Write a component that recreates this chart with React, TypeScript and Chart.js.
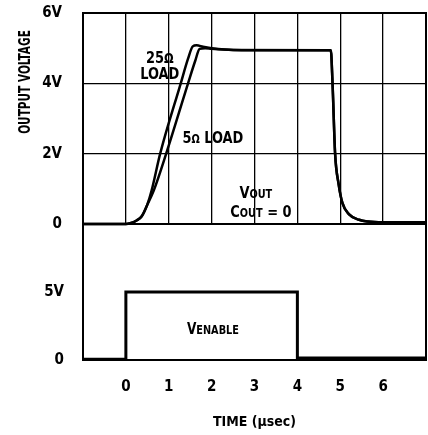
import React, { useEffect, useRef } from 'react';
import { Chart, registerables } from 'chart.js';

Chart.register(...registerables);

const FONT = '"Liberation Sans Narrow", "DejaVu Sans Condensed", "Roboto Condensed", "Liberation Sans", Arial, sans-serif';

// ---- data ----
const timeTicks = [0, 1, 2, 3, 4, 5, 6];
const outputTicks = [0, 2, 4, 6];
const outputTickLabels = ['0', '2V', '4V', '6V'];
const enableTicks = [0, 5];
const enableTickLabels = ['0', '5V'];

// 25 ohm load output (time in usec, volts)
const load25Time = [-1, 0, 0.1, 0.25, 0.37, 0.5, 0.6, 0.8, 1.28, 1.45, 1.56, 1.65, 1.8, 2.0, 2.3, 2.7, 4.78, 4.82, 4.88, 4.96, 5.05, 5.2, 5.44, 5.64, 6.0, 7];
const load25Volt = [0, 0, 0.02, 0.1, 0.22, 0.55, 0.95, 2.0, 4.0, 4.7, 5.05, 5.08, 5.04, 5.0, 4.96, 4.94, 4.94, 4.0, 2.0, 1.15, 0.6, 0.28, 0.12, 0.07, 0.05, 0.05];

// 5 ohm load output
const load5Time = [-1, 0, 0.1, 0.25, 0.37, 0.5, 0.65, 0.94, 1.45, 1.62, 1.72, 1.85, 2.0, 2.5, 4.78, 4.82, 4.88, 4.96, 5.05, 5.2, 5.44, 5.64, 6.0, 7];
const load5Volt = [0, 0, 0.02, 0.1, 0.22, 0.55, 0.95, 2.0, 4.0, 4.65, 4.98, 5.0, 4.98, 4.95, 4.94, 4.0, 2.0, 1.15, 0.6, 0.28, 0.12, 0.07, 0.05, 0.05];

// enable pulse
const enableTime = [-1, 0, 0, 4, 4, 7];
const enableVolt = [0.05, 0.05, 5, 5, 0.15, 0.15];

type Part = [string, number];
interface Note { t: number; v: number; parts: Part[] }

const upperNotes: Note[] = [
  { t: 0.79, v: 4.75, parts: [['25', 16], ['Ω', 14]] },
  { t: 0.79, v: 4.3, parts: [['LOAD', 16]] },
  { t: 2.03, v: 2.47, parts: [['5', 16], ['Ω', 12], [' LOAD', 16]] },
  { t: 3.03, v: 0.9, parts: [['V', 16], ['OUT', 12]] },
  { t: 3.15, v: 0.35, parts: [['C', 16], ['OUT', 12], [' = 0', 16]] },
];
const lowerNotes: Note[] = [
  { t: 2.03, v: 2.34, parts: [['V', 15], ['ENABLE', 12]] },
];

const toPts = (xs: number[], ys: number[]) => xs.map((x, i) => ({ x, y: ys[i] }));

const SQUEEZE = 0.9;

function drawNotes(chart: any, notes: Note[]) {
  const ctx = chart.ctx as CanvasRenderingContext2D;
  const xs = chart.scales.x;
  const ys = chart.scales.y;
  ctx.save();
  ctx.fillStyle = '#000';
  ctx.textBaseline = 'alphabetic';
  ctx.textAlign = 'left';
  for (const n of notes) {
    let total = 0;
    for (const [txt, size] of n.parts) {
      ctx.font = `bold ${size}px ${FONT}`;
      total += ctx.measureText(txt).width * SQUEEZE;
    }
    const maxSize = Math.max(...n.parts.map((p) => p[1]));
    let x = xs.getPixelForValue(n.t) - total / 2;
    const base = ys.getPixelForValue(n.v) + maxSize * 0.36;
    for (const [txt, size] of n.parts) {
      ctx.font = `bold ${size}px ${FONT}`;
      ctx.save();
      ctx.translate(x, base);
      ctx.scale(SQUEEZE, 1);
      ctx.fillText(txt, 0, 0);
      ctx.restore();
      x += ctx.measureText(txt).width * SQUEEZE;
    }
  }
  ctx.restore();
}

const frame = {
  id: 'frame',
  beforeDatasetsDraw(chart: any) {
    const { ctx, chartArea } = chart;
    ctx.save();
    ctx.strokeStyle = '#000';
    ctx.lineWidth = 2;
    ctx.strokeRect(chartArea.left, chartArea.top, chartArea.right - chartArea.left, chartArea.bottom - chartArea.top);
    ctx.restore();
  },
};

const tickFont = { family: FONT, size: 15, weight: 'bold' as const };

const fitY = (s: any) => { s.width = 83; s.paddingTop = 0; s.paddingBottom = 0; };

export default function App() {
  const upRef = useRef<HTMLCanvasElement>(null);
  const lowRef = useRef<HTMLCanvasElement>(null);

  useEffect(() => {
    const up = new Chart(upRef.current!, {
      type: 'line',
      data: {
        datasets: [
          { data: toPts(load25Time, load25Volt), borderColor: '#000', borderWidth: 2.5, pointRadius: 0, cubicInterpolationMode: 'monotone', clip: 4 } as any,
          { data: toPts(load5Time, load5Volt), borderColor: '#000', borderWidth: 2.5, pointRadius: 0, cubicInterpolationMode: 'monotone', clip: 4 } as any,
        ],
      },
      options: {
        animation: false,
        responsive: false,
        layout: { padding: { top: 13, right: 2, bottom: 12, left: 0 } },
        plugins: { legend: { display: false }, tooltip: { enabled: false } },
        scales: {
          x: {
            type: 'linear', min: -1, max: 7,
            afterFit: (s: any) => { s.height = 0; s.paddingLeft = 0; s.paddingRight = 0; },
            ticks: { display: false, stepSize: 1 },
            grid: { color: '#000', lineWidth: 1.3, drawTicks: false },
            border: { display: false },
          },
          y: {
            type: 'linear', min: 0, max: 6,
            afterBuildTicks: (s: any) => { s.ticks = outputTicks.map((v) => ({ value: v })); },
            afterFit: fitY,
            ticks: {
              color: '#000', font: tickFont, padding: 21,
              callback: (v: any) => outputTickLabels[outputTicks.indexOf(Number(v))] ?? '',
            },
            grid: { color: '#000', lineWidth: 1.3, drawTicks: false },
            border: { display: false },
          },
        },
      },
      plugins: [
        frame,
        {
          id: 'notesUp',
          afterDraw(chart: any) {
            drawNotes(chart, upperNotes);
            const ctx = chart.ctx as CanvasRenderingContext2D;
            const { chartArea } = chart;
            ctx.save();
            ctx.translate(chartArea.left - 57, chartArea.top + 69);
            ctx.rotate(-Math.PI / 2);
            ctx.scale(0.78, 1);
            ctx.font = `bold 15px ${FONT}`;
            ctx.fillStyle = '#000';
            ctx.textAlign = 'center';
            ctx.textBaseline = 'middle';
            ctx.fillText('OUTPUT VOLTAGE', 0, 0);
            ctx.restore();
          },
        },
      ],
    });

    const low = new Chart(lowRef.current!, {
      type: 'line',
      data: {
        datasets: [
          { data: toPts(enableTime, enableVolt), borderColor: '#000', borderWidth: 3, pointRadius: 0, tension: 0, clip: 4 } as any,
        ],
      },
      options: {
        animation: false,
        responsive: false,
        layout: { padding: { top: 4, right: 2, bottom: 0, left: 0 } },
        plugins: { legend: { display: false }, tooltip: { enabled: false } },
        scales: {
          x: {
            type: 'linear', min: -1, max: 7,
            afterBuildTicks: (s: any) => { s.ticks = timeTicks.map((v) => ({ value: v })); },
            afterFit: (s: any) => { s.height = 75; s.paddingLeft = 0; s.paddingRight = 0; },
            ticks: { color: '#000', font: tickFont, padding: 18 },
            grid: { display: false, drawTicks: false },
            border: { display: false },
            title: { display: true, text: 'TIME (µsec)', color: '#000', font: { family: FONT, size: 14, weight: 'bold' }, padding: { top: 18, bottom: 4 } },
          },
          y: {
            type: 'linear', min: 0, max: 10,
            afterBuildTicks: (s: any) => { s.ticks = enableTicks.map((v) => ({ value: v })); },
            afterFit: fitY,
            ticks: {
              color: '#000', font: tickFont, padding: 19,
              callback: (v: any) => enableTickLabels[enableTicks.indexOf(Number(v))] ?? '',
            },
            grid: { display: false, drawTicks: false },
            border: { display: false },
          },
        },
      },
      plugins: [
        frame,
        { id: 'notesLow', afterDraw(chart: any) { drawNotes(chart, lowerNotes); } },
      ],
    });

    return () => { up.destroy(); low.destroy(); };
  }, []);

  return (
    <div style={{ position: 'absolute', left: 0, top: 0, width: 428, height: 435, background: '#fff' }}>
      <canvas ref={upRef} width={428} height={236} style={{ position: 'absolute', left: 0, top: 0 }} />
      <canvas ref={lowRef} width={428} height={215} style={{ position: 'absolute', left: 0, top: 220 }} />
    </div>
  );
}
